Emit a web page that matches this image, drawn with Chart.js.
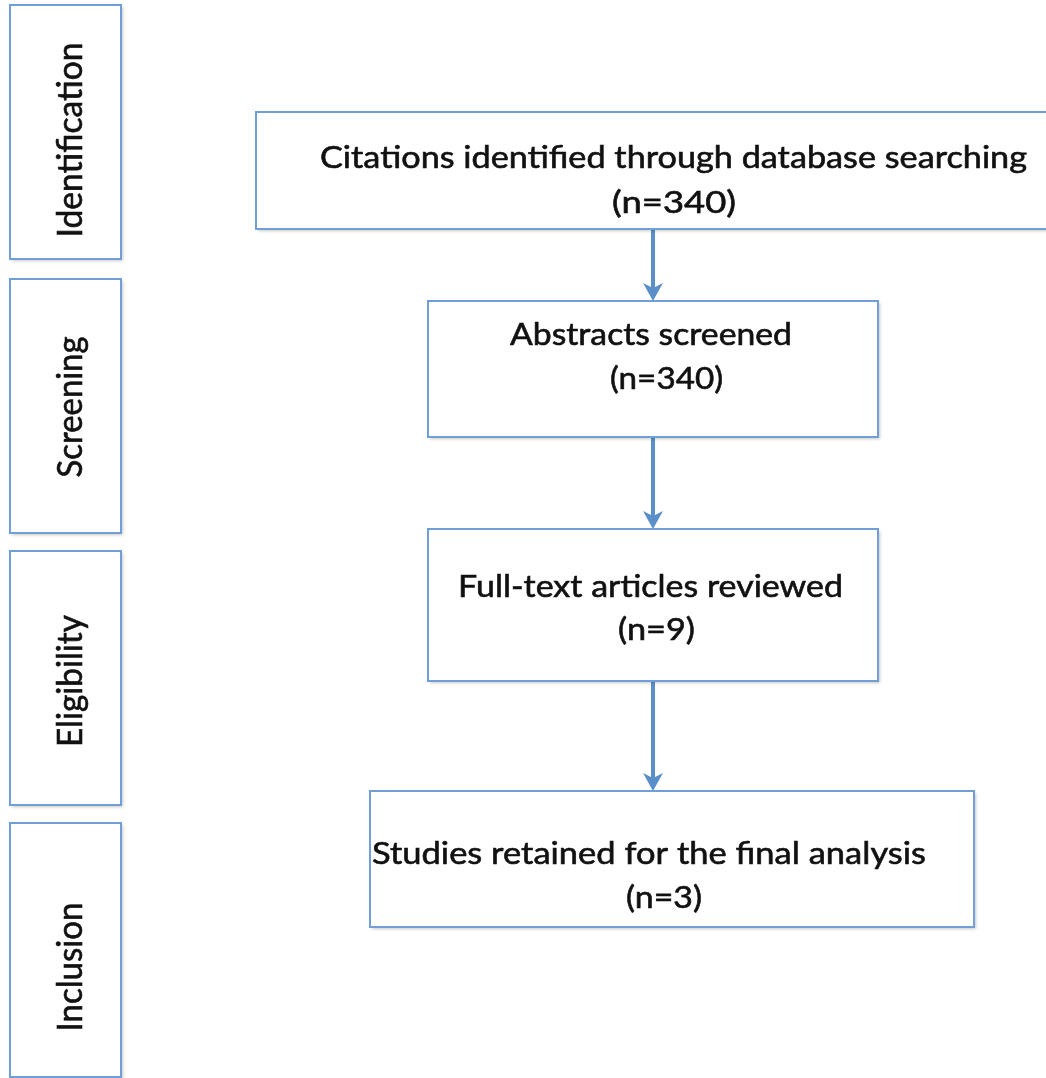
<!DOCTYPE html>
<html>
<head>
<meta charset="utf-8">
<title>Flow diagram</title>
<script src="https://cdn.jsdelivr.net/npm/chart.js"></script>
<style>
  html, body { margin: 0; padding: 0; background: #fff; }
  #flow { display: block; }
</style>
</head>
<body>
<canvas id="flow" width="1046" height="1078"></canvas>
<script>
(function () {
    "use strict";

    // -----------------------------------------------------------
    //  Data
    // -----------------------------------------------------------
    var stages = ["Identification", "Screening", "Eligibility", "Inclusion"];
    var steps = [
        "Citations identified through database searching",
        "Abstracts screened",
        "Full-text articles reviewed",
        "Studies retained for the final analysis"
    ];
    var counts = [340, 340, 9, 3];

    // -----------------------------------------------------------
    //  Layout (in scale units, 1 unit = 1 px of the page)
    // -----------------------------------------------------------
    var stageBoxes = [[10, 5, 121, 259], [10, 279, 121, 533], [10, 551, 121, 805], [10, 823, 121, 1077]];
    var stageText = [[82, 140, 195], [82, 407, 141], [82, 681, 132], [82, 967, 129]];  // baseline x, centre y, length

    var stepBoxes = [[256, 112, 1060, 229], [428, 301, 878, 437], [428, 529, 878, 681], [370, 791, 974, 927]];
    // per box: [left, baseline, width] for title line and count line
    var stepText = [
        [[320, 168, 707], [612, 213, 124]],
        [[510, 345, 282], [610, 389, 113]],
        [[458, 597, 385], [618, 640, 77]],
        [[372, 864, 554], [626, 908, 76]]
    ];
    var arrowX = 653;

    var BORDER = "#6f9fd8";
    var ARROW = "#5b8fc9";
    var INK = "#111111";

    // draw text squeezed/stretched to a given width, slightly heavier than Lato regular
    function fitText(ctx, txt, x, y, w) {
        var m = ctx.measureText(txt).width;
        ctx.save();
        ctx.translate(x, y);
        ctx.scale(w / m, 1);
        ctx.fillText(txt, 0, 0);
        ctx.lineWidth = 0.6;
        ctx.strokeText(txt, 0, 0);
        ctx.restore();
    }

    function box(ctx, sx, sy, b) {
        var x0 = sx.getPixelForValue(b[0]), y0 = sy.getPixelForValue(b[1]);
        var x1 = sx.getPixelForValue(b[2]), y1 = sy.getPixelForValue(b[3]);
        ctx.save();
        ctx.shadowColor = "rgba(0,0,0,0.22)";
        ctx.shadowBlur = 3;
        ctx.shadowOffsetX = 2;
        ctx.shadowOffsetY = 2;
        ctx.fillStyle = "#fff";
        ctx.fillRect(x0, y0, x1 - x0, y1 - y0);
        ctx.restore();
        ctx.strokeStyle = BORDER;
        ctx.lineWidth = 2;
        ctx.strokeRect(x0, y0, x1 - x0, y1 - y0);
    }

    function arrow(ctx, sx, sy, x, fromY, toY) {
        var px = sx.getPixelForValue(x);
        var a = sy.getPixelForValue(fromY), b = sy.getPixelForValue(toY);
        ctx.save();
        ctx.strokeStyle = ARROW;
        ctx.fillStyle = ARROW;
        ctx.lineWidth = 4;
        ctx.beginPath();
        ctx.moveTo(px, a);
        ctx.lineTo(px, b - 12);
        ctx.stroke();
        ctx.beginPath();
        ctx.moveTo(px, b);
        ctx.lineTo(px - 10, b - 18);
        ctx.lineTo(px, b - 13);
        ctx.lineTo(px + 10, b - 18);
        ctx.closePath();
        ctx.fill();
        ctx.restore();
    }

    var flowPlugin = {
        id: "flow",
        afterDatasetsDraw: function (chart) {
            var ctx = chart.ctx, sx = chart.scales.x, sy = chart.scales.y;

            // arrows between step boxes
            for (var i = 0; i < stepBoxes.length - 1; i++) {
                arrow(ctx, sx, sy, arrowX, stepBoxes[i][3], stepBoxes[i + 1][1]);
            }

            // stage column
            stageBoxes.forEach(function (b) { box(ctx, sx, sy, b); });
            ctx.fillStyle = INK;
            ctx.strokeStyle = INK;
            ctx.font = "34px Lato";
            ctx.textBaseline = "alphabetic";
            stages.forEach(function (s, i) {
                var t = stageText[i];
                ctx.save();
                ctx.translate(sx.getPixelForValue(t[0]), sy.getPixelForValue(t[1]));
                ctx.rotate(-Math.PI / 2);
                fitText(ctx, s, -t[2] / 2, 0, t[2]);
                ctx.restore();
            });

            // step boxes
            stepBoxes.forEach(function (b) { box(ctx, sx, sy, b); });
            ctx.fillStyle = INK;
            ctx.strokeStyle = INK;
            ctx.font = "31px Lato";
            steps.forEach(function (s, i) {
                var l1 = stepText[i][0], l2 = stepText[i][1];
                fitText(ctx, s, sx.getPixelForValue(l1[0]), sy.getPixelForValue(l1[1]), l1[2]);
                fitText(ctx, "(n=" + counts[i] + ")", sx.getPixelForValue(l2[0]), sy.getPixelForValue(l2[1]), l2[2]);
            });
        }
    };

    new Chart(document.getElementById("flow"), {
        type: "scatter",
        data: { datasets: [{ data: [] }] },
        options: {
            responsive: false,
            animation: false,
            devicePixelRatio: 1,
            layout: { padding: 0 },
            plugins: { legend: { display: false }, tooltip: { enabled: false } },
            scales: {
                x: { type: "linear", min: 0, max: 1046, display: false },
                y: { type: "linear", min: 0, max: 1078, reverse: true, display: false }
            }
        },
        plugins: [flowPlugin]
    });
})();
</script>
</body>
</html>
